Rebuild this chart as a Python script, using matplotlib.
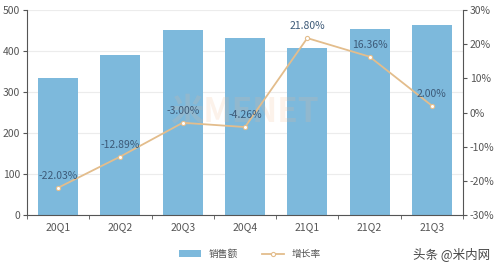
import matplotlib.pyplot as plt
import numpy as np

plt.rcParams['font.family'] = ['Noto Sans CJK SC', 'DejaVu Sans']

quarters = ['20Q1', '20Q2', '20Q3', '20Q4', '21Q1', '21Q2', '21Q3']
sales = [334, 390, 452, 432, 407, 454, 463]
growth = [-22.03, -12.89, -3.00, -4.26, 21.80, 16.36, 2.00]

bar_c = '#7db9dc'
line_c = '#e3bd8c'
txt_c = '#555555'

fig = plt.figure(figsize=(5, 2.66), dpi=100)
ax = fig.add_axes([0.054, 0.192, 0.872, 0.77])
x = np.arange(len(quarters))

ax.bar(x, sales, width=0.64, color=bar_c, zorder=2, label='销售额')
ax.set_xlim(-0.5, len(quarters) - 0.5)
ax.set_ylim(0, 500)
ax.set_yticks(range(0, 501, 100))
ax.grid(axis='y', color='#ececec', lw=0.8, zorder=0)
ax.set_xticks(x)
ax.set_xticklabels(quarters)
ax.set_xticks(np.arange(-0.5, len(quarters)), minor=True)
ax.tick_params(axis='x', which='major', length=0, labelsize=7.5, colors=txt_c, pad=5)
ax.tick_params(axis='x', which='minor', length=3, color='#555555')
ax.tick_params(axis='y', length=3, labelsize=7.5, colors=txt_c, pad=2)
for s in ['top', 'right']:
    ax.spines[s].set_visible(False)
ax.spines['left'].set_color('#555555')
ax.spines['bottom'].set_color('#555555')

# faint watermark
ax.text(3.0, 250, '米MENET', fontsize=24, color='#f0b890', alpha=0.18,
        ha='center', va='center', fontweight='bold', zorder=2.5)

ax2 = ax.twinx()
ax2.set_ylim(-30, 30)
ax2.set_yticks(range(-30, 31, 10))
ax2.set_yticklabels([f'{v}%' for v in range(-30, 31, 10)])
ax2.tick_params(axis='y', length=3, labelsize=7.5, colors=txt_c, pad=2)
for s in ['top', 'left', 'bottom']:
    ax2.spines[s].set_visible(False)
ax2.spines['right'].set_color('#555555')
ax2.plot(x, growth, color=line_c, lw=1.3, marker='o', ms=3, mfc='white',
         mec=line_c, mew=0.8, zorder=3, label='增长率')
for xi, g in zip(x, growth):
    ax2.text(xi, g + 2, f'{g:.2f}%', ha='center', va='bottom', fontsize=7.5,
             color='#3d5a78')

h1, l1 = ax.get_legend_handles_labels()
h2, l2 = ax2.get_legend_handles_labels()
fig.legend(h1 + h2, l1 + l2, loc='center', bbox_to_anchor=(0.5, 0.045), ncol=2,
           frameon=False, fontsize=7, handlelength=2.2, columnspacing=2.5,
           labelcolor='#555555')
fig.text(0.98, 0.045, '头条 @米内网', ha='right', va='center', fontsize=9,
         color='#444444')

fig.savefig('out.png', dpi=100)
